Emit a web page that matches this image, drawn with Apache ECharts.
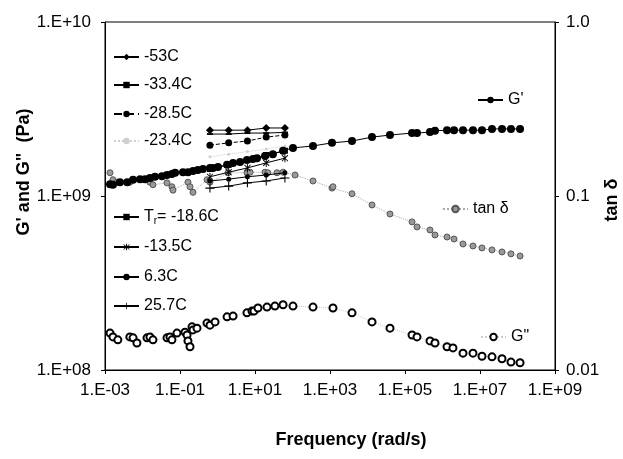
<!DOCTYPE html>
<html>
<head>
<meta charset="utf-8">
<script src="https://cdn.jsdelivr.net/npm/echarts@6/dist/echarts.min.js"></script>
<style>
html, body { margin: 0; padding: 0; background: #fff; }
#chart { width: 623px; height: 459px; }
</style>
</head>
<body>
<div id="chart"></div>
<script>
// axis tick labels
const freqTickLabels = ['1.E-03', '1.E-01', '1.E+01', '1.E+03', '1.E+05', '1.E+07', '1.E+09'];
const modTickLabels = ['1.E+08', '1.E+09', '1.E+10'];
const tanTickLabels = ['0.01', '0.1', '1.0'];

// master curve G' (Pa)
const gpFreq = [1.36e-3, 1.63e-3, 2.5e-3, 3.9e-3, 5.6e-3, 8.6e-3, 0.0117, 0.0158, 0.0215, 0.033,
  0.045, 0.061, 0.074, 0.12, 0.163, 0.222, 0.30, 0.41, 0.63, 0.76,
  1.03, 1.8, 2.6, 4.0, 6.1, 8.8, 11.3, 18.5, 30, 56,
  103, 352, 1130, 3860, 1.32e4, 3.98e4, 1.54e5, 2.09e5, 4.64e5, 6.3e5,
  1.32e6, 2.03e6, 3.52e6, 6.5e6, 1.13e7, 2.09e7, 3.86e7, 6.7e7, 1.17e8];
const gpValues = [1.17e9, 1.16e9, 1.20e9, 1.20e9, 1.24e9, 1.25e9, 1.25e9, 1.27e9, 1.29e9, 1.30e9,
  1.32e9, 1.34e9, 1.36e9, 1.37e9, 1.37e9, 1.39e9, 1.41e9, 1.43e9, 1.45e9, 1.45e9,
  1.47e9, 1.51e9, 1.55e9, 1.57e9, 1.61e9, 1.63e9, 1.65e9, 1.70e9, 1.74e9, 1.82e9,
  1.89e9, 1.94e9, 2.02e9, 2.07e9, 2.18e9, 2.24e9, 2.30e9, 2.30e9, 2.33e9, 2.37e9,
  2.39e9, 2.39e9, 2.39e9, 2.39e9, 2.39e9, 2.43e9, 2.43e9, 2.43e9, 2.43e9];

// master curve tan delta
const tanFreq = [1.36e-3, 1.63e-3, 2.09e-3, 4.6e-3, 5.6e-3, 0.0158, 0.019, 0.045, 0.061, 0.065,
  0.163, 0.185, 0.222, 0.525, 0.63, 1.9, 6.1, 7.4, 18.5, 22,
  38.6, 56, 117, 352, 1130, 1200, 3860, 1.32e4, 3.98e4, 1.54e5,
  2.09e5, 4.64e5, 6.3e5, 1.32e6, 2.03e6, 3.52e6, 6.5e6, 1.13e7, 2.09e7, 3.86e7,
  6.7e7, 1.17e8];
const tanValues = [0.136, 0.124, 0.120, 0.120, 0.124, 0.120, 0.116, 0.119, 0.113, 0.108,
  0.120, 0.113, 0.105, 0.124, 0.120, 0.136, 0.136, 0.137, 0.137, 0.136,
  0.136, 0.137, 0.132, 0.122, 0.111, 0.113, 0.103, 0.0888, 0.0788, 0.0710,
  0.0664, 0.0638, 0.0597, 0.0581, 0.0566, 0.0530, 0.0516, 0.0503, 0.0490, 0.0477,
  0.0465, 0.0452];

// master curve G'' (Pa)
const gppFreq = [1.36e-3, 1.63e-3, 2.2e-3, 4.6e-3, 5.6e-3, 7.1e-3, 0.0132, 0.0158, 0.019, 0.045,
  0.054, 0.061, 0.083, 0.136, 0.154, 0.163, 0.185, 0.209, 0.222, 0.284,
  0.525, 0.63, 0.86, 1.8, 2.6, 6.1, 8.3, 9.4, 12, 20.9,
  34, 56, 103, 352, 1200, 3860, 1.32e4, 3.98e4, 1.54e5, 2.09e5,
  4.64e5, 6.3e5, 1.32e6, 1.9e6, 3.52e6, 6.5e6, 1.13e7, 2.09e7, 3.86e7, 6.7e7,
  1.17e8];
const gppValues = [1.63e8, 1.55e8, 1.49e8, 1.55e8, 1.53e8, 1.43e8, 1.53e8, 1.55e8, 1.49e8, 1.53e8,
  1.55e8, 1.49e8, 1.63e8, 1.65e8, 1.59e8, 1.47e8, 1.36e8, 1.77e8, 1.70e8, 1.74e8,
  1.86e8, 1.81e8, 1.89e8, 2.02e8, 2.04e8, 2.13e8, 2.18e8, 2.18e8, 2.27e8, 2.30e8,
  2.33e8, 2.37e8, 2.33e8, 2.30e8, 2.27e8, 2.13e8, 1.89e8, 1.74e8, 1.59e8, 1.55e8,
  1.47e8, 1.43e8, 1.36e8, 1.34e8, 1.25e8, 1.25e8, 1.20e8, 1.19e8, 1.16e8, 1.11e8,
  1.10e8];

// raw isotherms, G' (Pa)
const rawFreq = [0.628, 1.99, 6.28, 19.9, 62.8];
const tempNames = ['-53C', '-33.4C', '-28.5C', '-23.4C', 'Tr= -18.6C', '-13.5C', '6.3C', '25.7C'];
const gp53 = [2.39e9, 2.39e9, 2.39e9, 2.46e9, 2.46e9];
const gp334 = [2.27e9, 2.27e9, 2.30e9, 2.30e9, 2.32e9];
const gp285 = [1.96e9, 2.02e9, 2.07e9, 2.18e9, 2.24e9];
const gp234 = [1.68e9, 1.74e9, 1.80e9, 1.86e9, 1.94e9];
const gp186 = [1.43e9, 1.51e9, 1.61e9, 1.72e9, 1.82e9];
const gp135 = [1.29e9, 1.37e9, 1.45e9, 1.55e9, 1.65e9];
const gp63 = [1.22e9, 1.25e9, 1.29e9, 1.32e9, 1.36e9];
const gp257 = [1.11e9, 1.14e9, 1.19e9, 1.22e9, 1.27e9];
const rawValues = [gp53, gp334, gp285, gp234, gp186, gp135, gp63, gp257];

const FONT = '"Liberation Sans", Arial, sans-serif';
const pairs = (xs, ys) => xs.map((x, i) => [x, ys[i]]);
const exp10 = v => Math.round(Math.log10(v));

const plusPath = 'path://M4.4,0h1.2v10h-1.2zM0,4.4h10v1.2h-10z';
const starPath = 'path://M4.4,0h1.2v10h-1.2zM0.8,1.6L1.6,0.8L9.2,8.4L8.4,9.2zM8.4,0.8L9.2,1.6L1.6,9.2L0.8,8.4z';
const dashPath = 'path://M0,0h10v3h-10z';

// look of each isotherm
const rawStyles = [
  { symbol: 'diamond', size: 8, color: '#000', type: 'solid' },
  { symbol: dashPath, size: 6, color: '#000', type: 'solid' },
  { symbol: 'circle', size: 7, color: '#000', type: 'dashed' },
  { symbol: 'circle', size: 3, color: '#cfcfcf', type: 'dotted' },
  { symbol: 'rect', size: 6, color: '#000', type: 'solid' },
  { symbol: starPath, size: 8, color: '#000', type: 'solid' },
  { symbol: 'circle', size: 5, color: '#000', type: 'solid' },
  { symbol: plusPath, size: 9, color: '#000', type: 'solid' }
];

const series = tempNames.map((name, i) => ({
  name: name,
  type: 'line',
  data: pairs(rawFreq, rawValues[i]),
  symbol: rawStyles[i].symbol,
  symbolSize: rawStyles[i].size,
  symbolKeepAspect: true,
  itemStyle: { color: rawStyles[i].color },
  lineStyle: { color: rawStyles[i].color, width: 1, type: rawStyles[i].type },
  z: 3
}));

series.push({
  name: "G'",
  type: 'line',
  data: pairs(gpFreq, gpValues),
  symbol: 'circle',
  symbolSize: 8,
  itemStyle: { color: '#000' },
  lineStyle: { color: '#000', width: 1 },
  z: 4
});
series.push({
  name: 'tan δ',
  type: 'line',
  yAxisIndex: 1,
  data: pairs(tanFreq, tanValues),
  symbol: 'circle',
  symbolSize: 6,
  itemStyle: { color: '#9a9a9a', borderColor: '#555', borderWidth: 1 },
  lineStyle: { color: '#aaa', width: 1, type: 'dotted' },
  z: 2
});
series.push({
  name: 'G"',
  type: 'line',
  data: pairs(gppFreq, gppValues),
  symbol: 'emptyCircle',
  symbolSize: 7,
  itemStyle: { color: '#000', borderWidth: 1.2 },
  lineStyle: { color: '#ccc', width: 1, type: 'dotted' },
  z: 2
});

// legend placement (one legend box per entry, as in the original figure)
const legendSpots = [
  { name: '-53C', left: 113, top: 53 },
  { name: '-33.4C', left: 113, top: 81 },
  { name: '-28.5C', left: 113, top: 110 },
  { name: '-23.4C', left: 113, top: 137 },
  { name: 'Tr= -18.6C', left: 113, top: 213 },
  { name: '-13.5C', left: 113, top: 243 },
  { name: '6.3C', left: 113, top: 273 },
  { name: '25.7C', left: 113, top: 302 },
  { name: "G'", left: 477, top: 96 },
  { name: 'tan δ', left: 442, top: 205 },
  { name: 'G"', left: 480, top: 333 }
];
const legends = legendSpots.map(s => ({
  data: [s.name],
  left: s.left,
  top: s.top - 4,
  padding: 0,
  itemWidth: 25,
  itemHeight: 8,
  selectedMode: false,
  formatter: s.name === 'Tr= -18.6C' ? '{n|T}{s|r}{n|= -18.6C}' : '{n|{name}}',
  textStyle: {
    color: '#000',
    fontFamily: FONT,
    fontSize: 16,
    rich: {
      n: { fontSize: 16, fontFamily: FONT, color: '#000', lineHeight: 18 },
      s: { fontSize: 10, fontFamily: FONT, color: '#000', lineHeight: 10, verticalAlign: 'bottom' }
    }
  }
}));

const chart = echarts.init(document.getElementById('chart'), null, { renderer: 'canvas' });
chart.setOption({
  animation: false,
  backgroundColor: '#fff',
  grid: {
    left: 105, right: 68, top: 22, bottom: 89,
    show: true, borderColor: '#000', borderWidth: 1, backgroundColor: 'transparent'
  },
  legend: legends,
  xAxis: {
    type: 'log',
    logBase: 10,
    min: 1e-3,
    max: 1e9,
    interval: 2,
    axisLine: { lineStyle: { color: '#000', width: 1 } },
    axisTick: { length: 4, lineStyle: { color: '#000' } },
    splitLine: { show: false },
    axisLabel: {
      color: '#000',
      fontFamily: FONT,
      fontSize: 17,
      margin: 12,
      formatter: v => {
        const e = exp10(v) + 3;
        return e % 2 === 0 ? freqTickLabels[e / 2] : '';
      }
    }
  },
  yAxis: [
    {
      type: 'log',
      logBase: 10,
      min: 1e8,
      max: 1e10,
      axisLine: { show: true, lineStyle: { color: '#000', width: 1 } },
      axisTick: { show: true, length: 4, lineStyle: { color: '#000' } },
      splitLine: { show: false },
      axisLabel: {
        color: '#000',
        fontFamily: FONT,
        fontSize: 17,
        margin: 14,
        padding: [0, 0, 10, 0],
        formatter: v => modTickLabels[exp10(v) - 8]
      }
    },
    {
      type: 'log',
      logBase: 10,
      min: 0.01,
      max: 1,
      position: 'right',
      axisLine: { show: true, lineStyle: { color: '#000', width: 1 } },
      axisTick: { show: true, length: 4, lineStyle: { color: '#000' } },
      splitLine: { show: false },
      axisLabel: {
        color: '#000',
        fontFamily: FONT,
        fontSize: 17,
        margin: 11,
        formatter: v => tanTickLabels[exp10(v) + 2]
      }
    }
  ],
  graphic: [
    {
      type: 'text', x: 351, y: 440,
      style: { text: 'Frequency (rad/s)', fill: '#000', font: 'bold 18px ' + FONT, textAlign: 'center', textVerticalAlign: 'middle' }
    },
    {
      type: 'text', x: 24, y: 172, rotation: Math.PI / 2,
      style: { text: 'G\' and G"  (Pa)', fill: '#000', font: 'bold 18px ' + FONT, textAlign: 'center', textVerticalAlign: 'middle' }
    },
    {
      type: 'text', x: 612, y: 200, rotation: Math.PI / 2,
      style: { text: 'tan δ', fill: '#000', font: 'bold 18px ' + FONT, textAlign: 'center', textVerticalAlign: 'middle' }
    }
  ],
  series: series
});
</script>
</body>
</html>
